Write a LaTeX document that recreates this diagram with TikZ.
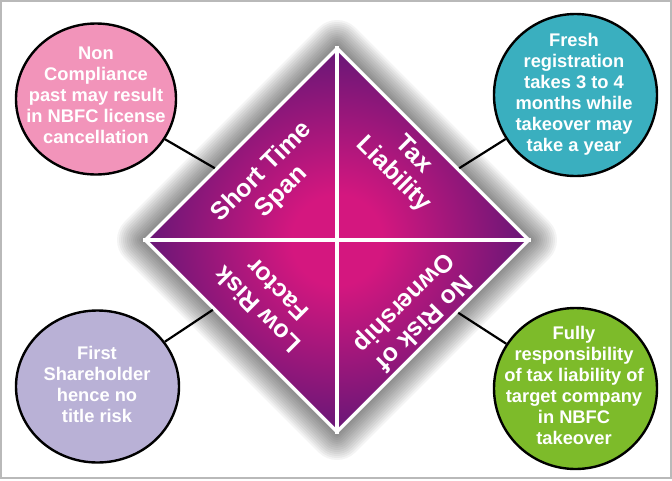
\documentclass[tikz,border=0pt]{standalone}
\usepackage{fontspec}
\setmainfont{Liberation Sans}
\usetikzlibrary{shapes.geometric,calc}
\definecolor{pinkc}{HTML}{F294BA}
\definecolor{tealc}{HTML}{3AAFBF}
\definecolor{lavc}{HTML}{B9B1D6}
\definecolor{greenc}{HTML}{7DBB2A}
\definecolor{magc}{HTML}{D4177F}
\definecolor{purc}{HTML}{5E1776}
\pgfdeclareradialshading{dshade}{\pgfpoint{0bp}{0bp}}{color(0bp)=(magc); color(6bp)=(magc); color(27bp)=(purc); color(50bp)=(purc)}
\begin{document}
\begin{tikzpicture}[x=1pt,y=-1pt,
  bubble/.style={ellipse, draw=black, line width=2.4pt, inner sep=0pt},
  bubtext/.style={inner sep=0pt, text=white, font=\fontsize{18.3}{21}\selectfont\bfseries, align=center},
  tri/.style={text=white, font=\fontsize{25}{28}\selectfont\bfseries, align=center, inner sep=0pt},
  conn/.style={line width=2.2pt, black},
  glow/.style={black, opacity=0.045, line join=round}]
\useasboundingbox (0,0) rectangle (672,480);
\draw[gray!55, line width=1.5pt] (1,1) rectangle (671,478);
% diamond
\coordinate (T) at (337,46);
\coordinate (L) at (143,240);
\coordinate (R) at (531,240);
\coordinate (B) at (337,434);
\foreach \w in {4,8,...,52} \draw[glow, line width=\w pt] (T)--(R)--(B)--(L)--cycle;
\fill[white] (T)--(R)--(B)--(L)--cycle;
\shade[shading=dshade] (337,51)--(526,240)--(337,429)--(148,240)--cycle;
\draw[white, line width=3.5pt] (T) -- (B);
\draw[white, line width=3.5pt] (L) -- (R);
\node[tri, rotate=45] (t1) at (272,182) {Short Time\\Span};
\node[tri, rotate=-45] (t2) at (403,165) {Tax\\Liability};
\node[tri, rotate=135] (t3) at (267,300) {Low Risk\\Factor};
\node[tri, rotate=-135] (t4) at (413,312) {No Risk of\\Ownership};
% bubbles
\node[bubble, fill=pinkc, minimum width=160pt, minimum height=151pt] (c1) at (96,99) {};
\node[bubble, fill=tealc, minimum width=163pt, minimum height=162pt] (c2) at (575.5,95) {};
\node[bubble, fill=lavc, minimum width=163pt, minimum height=152pt] (c3) at (97.5,386.5) {};
\node[bubble, fill=greenc, minimum width=163pt, minimum height=161pt] (c4) at (575.5,388.5) {};
\node[bubtext] (c1t) at (96,95) {Non\\Compliance\\past may result\\in NBFC license\\cancellation};
\node[bubtext] (c2t) at (574,94) {Fresh\\registration\\takes 3 to 4\\months while\\takeover may\\take a year};
\node[bubtext] (c3t) at (97,384) {First\\Shareholder\\hence no\\title risk};
\node[bubtext] (c4t) at (574,385) {Fully\\responsibility\\of tax liability of\\target company\\in NBFC\\takeover};
% connectors
\coordinate (e1) at ($(L)!0.37!(T)$);
\coordinate (e2) at ($(T)!0.63!(R)$);
\coordinate (e3) at ($(L)!0.36!(B)$);
\coordinate (e4) at ($(R)!0.375!(B)$);
\draw[conn] (c1) -- (e1);
\draw[conn] (c2) -- (e2);
\draw[conn] (c3) -- (e3);
\draw[conn] (c4) -- (e4);
\end{tikzpicture}
\end{document}
